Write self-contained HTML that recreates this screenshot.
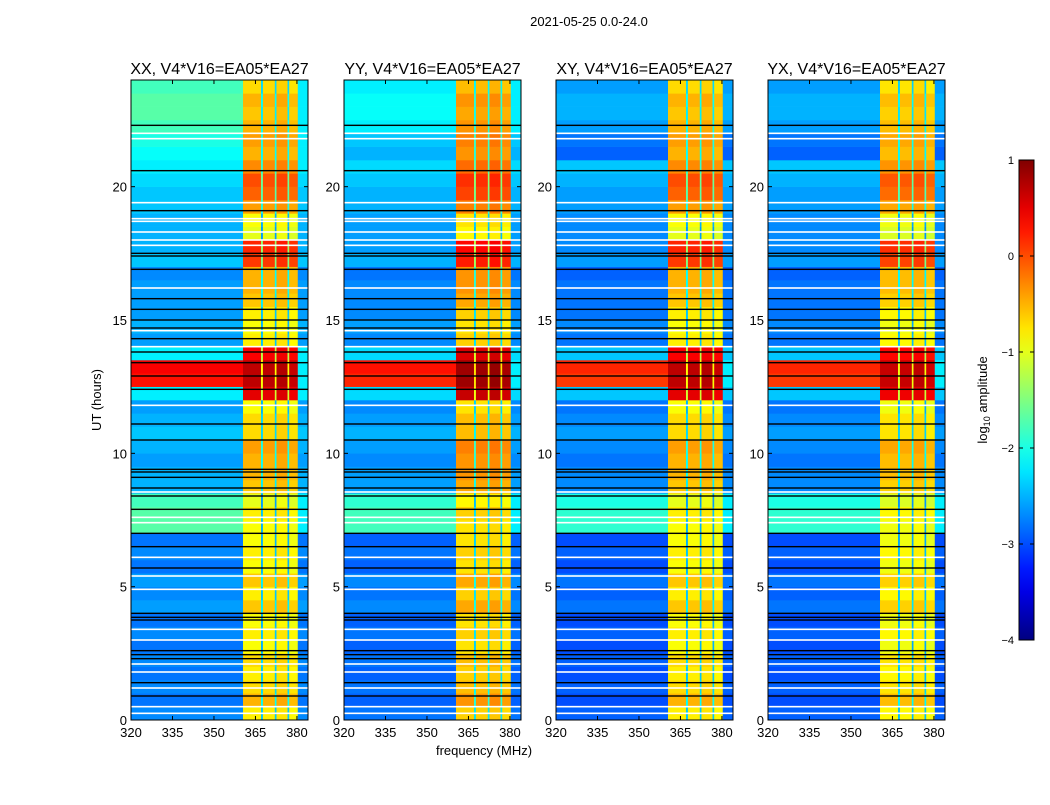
<!DOCTYPE html>
<html><head><meta charset="utf-8"><style>
body{margin:0;background:#fff;}
svg text{font-family:"Liberation Sans",sans-serif;}
</style></head><body>
<svg id="c" width="1050" height="800" xmlns="http://www.w3.org/2000/svg"></svg>
<script>
// ---- data ----
const panelTitles = ["XX, V4*V16=EA05*EA27","YY, V4*V16=EA05*EA27","XY, V4*V16=EA05*EA27","YX, V4*V16=EA05*EA27"];
const panelLeft = [131, 344, 556, 768];
const xTicks = [320,335,350,365,380];
const yTicks = [0,5,10,15,20];
const cbTicks = [1,0,-1,-2,-3,-4];
// log10 amplitude of background (non-RFI) per half hour, 0..24 h
const bgLevel = [-2.7,-2.8,-2.7,-2.8,-2.7,-2.8,-2.7,-2.8,-2.6,-2.7,-2.6,-2.8,-2.7,-2.8,-1.7,-1.7,-1.8,-2.5,-2.5,-2.6,-2.5,-2.4,-2.5,-2.6,-2.2,0.3,0.4,-2.2,-2.6,-2.5,-2.6,-2.6,-2.6,-2.7,-2.4,-2.5,-2.5,-2.5,-2.4,-2.4,-2.3,-2.2,-2.1,-2.0,-1.8,-1.7,-1.7,-1.8];
// log10 amplitude in the RFI band 360-380 MHz per half hour
const bandLevel = [-0.8,-0.5,-0.7,-0.8,-0.7,-0.9,-0.8,-0.9,-0.6,-0.8,-0.6,-0.9,-0.8,-0.9,-0.9,-0.8,-1.0,-0.6,-0.5,-0.5,-0.4,-0.7,-0.7,-0.9,0.5,0.7,0.7,0.4,-0.8,-0.9,-0.8,-0.6,-0.5,-0.5,0.1,0.2,-1.0,-0.9,-0.4,-0.1,0.0,-0.3,-0.5,-0.4,-0.5,-0.6,-0.5,-0.7];
const colStart = [320,360.5,367,367.7,372,372.6,376.6,377.2,380.3];
const colEnd   = [360.5,367,367.7,372,372.6,376.6,377.2,380.3,384];
const colInBand = [0,1,1,1,1,1,1,1,0];
const colOffset = [0,0,-1.6,0,-1.6,0.05,-1.6,-0.05,0];
const panelBgShift = [0,-0.1,-0.2,-0.2];
const panelTopShift = [0,-0.3,-0.6,-0.6];
const panelBandShift = [0,0.15,0,-0.05];
const gapHours = [0.25,0.5,1.2,1.8,2.1,3.0,3.4,4.9,5.4,6.1,7.4,7.6,8.55,11.8,14.0,14.6,16.2,17.8,18.0,18.3,18.7,18.8,19.4,21.8,22.0];
const blackHours = [0.9,1.4,2.3,2.45,2.6,3.75,3.85,4.0,5.7,6.5,7.0,7.9,8.4,8.7,9.1,9.3,9.4,10.5,11.1,12.4,12.9,13.4,13.8,14.3,14.7,15.0,15.4,15.8,16.9,17.4,17.5,19.1,20.6,22.3];

// ---- layout ----
const svg = document.getElementById('c');
const NS = "http://www.w3.org/2000/svg";
const PW = 177, PT = 80, PB = 720, FMIN = 320, FMAX = 384, HMAX = 24;
const yS = h => PB - h*(PB-PT)/HMAX;
function jet(v){
  let t = Math.max(0,Math.min(1,(v+4)/5));
  const f = x => Math.max(0,Math.min(1,x));
  const r = f(1.5-Math.abs(4*t-3)), g = f(1.5-Math.abs(4*t-2)), b = f(1.5-Math.abs(4*t-1));
  return `rgb(${Math.round(r*255)},${Math.round(g*255)},${Math.round(b*255)})`;
}
function mk(tag, attrs, parent){
  const e = document.createElementNS(NS, tag);
  for (const k in attrs) e.setAttribute(k, attrs[k]);
  (parent||svg).appendChild(e); return e;
}
function txt(s, attrs, parent){ const e = mk('text', attrs, parent); e.textContent = s; return e; }

const sup = txt("2021-05-25 0.0-24.0", {x:589,y:26,'font-size':13,'text-anchor':'middle'});



panelLeft.forEach((L, p) => {
  const xS = f => L + (f-FMIN)*PW/(FMAX-FMIN);
  const g = mk('g', {});
  
  
  for (let i=0;i<bgLevel.length;i++){
    for (let c=0;c<colStart.length;c++){
      let base = colInBand[c] ? bandLevel[i]+panelBandShift[p] : bgLevel[i]+panelBgShift[p] + (i>=42 ? panelTopShift[p] : 0);
      if (!colInBand[c] && c>0) base = Math.min(base, -2.2);
      const v = base + colOffset[c];
      const y0 = yS((i+1)/2), y1 = yS(i/2);
      const r = mk('rect',{x:xS(colStart[c]).toFixed(2),y:y0.toFixed(2),width:(xS(colEnd[c])-xS(colStart[c])+0.3).toFixed(2),height:(y1-y0+0.3).toFixed(2),fill:jet(v)},g);
      
      
    }
  }
  gapHours.forEach(h=>{
    const r = mk('rect',{x:L,y:yS(h)-0.8,width:PW,height:1.6,fill:'#fff'},g);
    
    
  });
  blackHours.forEach(h=>{
    const r = mk('rect',{x:L,y:yS(h)-0.7,width:PW,height:1.4,fill:'#000'},g);
    
    
  });
  const fr = mk('rect',{x:L,y:PT,width:PW,height:PB-PT,fill:'none',stroke:'#000','stroke-width':1});
  
  
  const t = txt(panelTitles[p], {x:L+PW/2,y:74,'font-size':16,'text-anchor':'middle'});
  
  
  xTicks.forEach(f=>{
    mk('line',{x1:xS(f),x2:xS(f),y1:PB,y2:PB-4,stroke:'#000'});
    mk('line',{x1:xS(f),x2:xS(f),y1:PT,y2:PT+4,stroke:'#000'});
    const l = txt(String(f),{x:xS(f),y:737,'font-size':13,'text-anchor':'middle'});
    
    
  });
  yTicks.forEach(h=>{
    mk('line',{x1:L,x2:L+4,y1:yS(h),y2:yS(h),stroke:'#000'});
    mk('line',{x1:L+PW,x2:L+PW-4,y1:yS(h),y2:yS(h),stroke:'#000'});
    const l = txt(String(h),{x:L-4,y:yS(h)+5,'font-size':13,'text-anchor':'end'});
    
    
  });
});
const xt = txt("frequency (MHz)",{x:484,y:755,'font-size':13,'text-anchor':'middle'});


const yt = txt("UT (hours)",{x:0,y:0,'font-size':13,'text-anchor':'middle',transform:'translate(101,400) rotate(-90)'});



// colorbar
const defs = mk('defs',{});
const lg = mk('linearGradient',{id:'jg',x1:0,y1:1,x2:0,y2:0},defs);
for (let i=0;i<=20;i++){ mk('stop',{offset:(i/20),'stop-color':jet(-4+5*i/20)},lg); }
const CB = {x:1019,y:160,w:15,h:480};
const cb = mk('rect',{x:CB.x,y:CB.y,width:CB.w,height:CB.h,fill:'url(#jg)',stroke:'#000'});


cbTicks.forEach(v=>{
  const y = CB.y + (1-v)*CB.h/5;
  mk('line',{x1:CB.x,x2:CB.x+4,y1:y,y2:y,stroke:'#000'});
  mk('line',{x1:CB.x+CB.w,x2:CB.x+CB.w-4,y1:y,y2:y,stroke:'#000'});
  const l = txt(v<0?'\u2212'+(-v):String(v),{x:CB.x-5,y:y+4,'font-size':11,'text-anchor':'end'});
  
  
});
const cl = mk('text',{x:0,y:0,'font-size':13,'text-anchor':'middle',transform:'translate(987,400) rotate(-90)'});
cl.innerHTML = 'log<tspan font-size="9" dy="3">10</tspan><tspan dy="-3"> amplitude</tspan>';


</script>
</body></html>
